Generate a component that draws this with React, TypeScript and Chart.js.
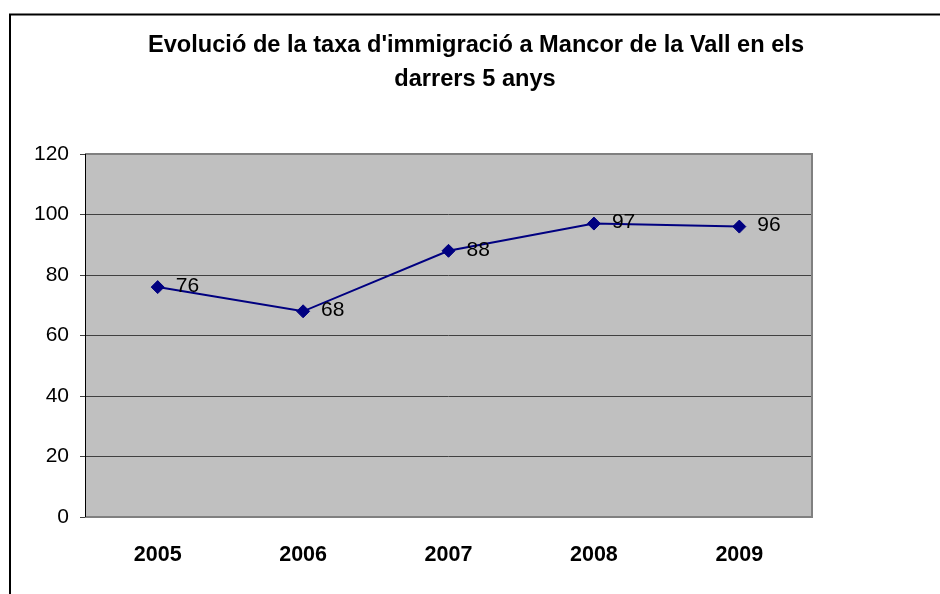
import React, { useEffect, useRef } from "react";
import { Chart, registerables } from "chart.js";

Chart.register(...registerables);

const years: string[] = ["2005", "2006", "2007", "2008", "2009"];
const immigrationRate: number[] = [76, 68, 88, 97, 96];
const titleLines: string[] = [
  "Evolució de la taxa d'immigració a Mancor de la Vall en els",
  "darrers 5 anys",
];
const yMin = 0;
const yMax = 120;
const yStep = 20;

const FONT = "Arial, 'Liberation Sans', sans-serif";

const framePlugin = {
  id: "framePlugin",
  beforeDraw(chart: any) {
    const { ctx, chartArea: a, width, height } = chart;
    ctx.save();
    ctx.fillStyle = "#ffffff";
    ctx.fillRect(0, 0, width, height);
    ctx.fillStyle = "#C0C0C0";
    ctx.fillRect(a.left, a.top, a.right - a.left, a.bottom - a.top);
    // outer chart border (cropped on right/bottom)
    ctx.strokeStyle = "#000000";
    ctx.lineWidth = 2;
    ctx.beginPath();
    ctx.moveTo(10, height + 10);
    ctx.lineTo(10, 14.5);
    ctx.lineTo(width + 10, 14.5);
    ctx.stroke();
    ctx.restore();
  },
  beforeDatasetsDraw(chart: any) {
    const { ctx, chartArea: a } = chart;
    ctx.save();
    ctx.strokeStyle = "#808080";
    ctx.lineWidth = 2;
    ctx.beginPath();
    ctx.moveTo(a.left, a.top);
    ctx.lineTo(a.right, a.top);
    ctx.lineTo(a.right, a.bottom);
    ctx.lineTo(a.left, a.bottom);
    ctx.stroke();
    ctx.strokeStyle = "#000000";
    ctx.lineWidth = 1;
    ctx.beginPath();
    ctx.moveTo(a.left + 0.5, a.top);
    ctx.lineTo(a.left + 0.5, a.bottom);
    ctx.stroke();
    ctx.restore();
  },
  afterDatasetsDraw(chart: any) {
    const { ctx } = chart;
    const meta = chart.getDatasetMeta(0);
    ctx.save();
    ctx.fillStyle = "#000000";
    ctx.font = `21px ${FONT}`;
    ctx.textAlign = "left";
    ctx.textBaseline = "middle";
    meta.data.forEach((pt: any, i: number) => {
      ctx.fillText(String(immigrationRate[i]), pt.x + 18, pt.y - 1);
    });
    ctx.restore();
  },
  afterDraw(chart: any) {
    const { ctx } = chart;
    ctx.save();
    ctx.fillStyle = "#000000";
    ctx.font = `bold 23.6px ${FONT}`;
    ctx.textAlign = "center";
    ctx.textBaseline = "alphabetic";
    ctx.fillText(titleLines[0], 476, 52);
    ctx.fillText(titleLines[1], 475, 86);
    ctx.restore();
  },
};

export default function App() {
  const canvasRef = useRef<HTMLCanvasElement | null>(null);

  useEffect(() => {
    if (!canvasRef.current) return;
    const chart = new Chart(canvasRef.current, {
      type: "line",
      data: {
        labels: years,
        datasets: [
          {
            data: immigrationRate,
            borderColor: "#000080",
            backgroundColor: "#000080",
            borderWidth: 2,
            pointStyle: "rectRot",
            pointRadius: 6.5,
            pointBorderWidth: 1,
            pointBackgroundColor: "#000080",
            pointBorderColor: "#000080",
            tension: 0,
            fill: false,
          },
        ],
      },
      options: {
        responsive: false,
        animation: false,
        devicePixelRatio: 1,
        layout: { padding: { left: 0, top: 154, right: 128, bottom: 0 } },
        plugins: {
          legend: { display: false },
          title: { display: false },
          tooltip: { enabled: false },
        },
        scales: {
          x: {
            type: "category",
            offset: true,
            grid: { display: false, drawTicks: false },
            border: { display: false },
            ticks: {
              color: "#000000",
              font: { family: FONT, size: 21.5, weight: "bold" },
              padding: 25,
              maxRotation: 0,
            },
            afterFit(scale: any) {
              scale.height = 77;
            },
          },
          y: {
            min: yMin,
            max: yMax,
            grid: {
              color: (c: any) =>
                c.tick && (c.tick.value === yMax || c.tick.value === yMin)
                  ? "rgba(0,0,0,0)"
                  : "#404040",
              tickColor: "#404040",
              tickLength: 5,
              lineWidth: 1,
            },
            border: { display: false },
            ticks: {
              stepSize: yStep,
              color: "#000000",
              font: { family: FONT, size: 21 },
              padding: 11,
            },
            afterFit(scale: any) {
              scale.width = 85;
            },
          },
        },
      },
      plugins: [framePlugin],
    });
    return () => chart.destroy();
  }, []);

  return (
    <div style={{ position: "fixed", left: 0, top: 0, width: 940, height: 594 }}>
      <canvas ref={canvasRef} width={940} height={594} style={{ display: "block" }} />
    </div>
  );
}
